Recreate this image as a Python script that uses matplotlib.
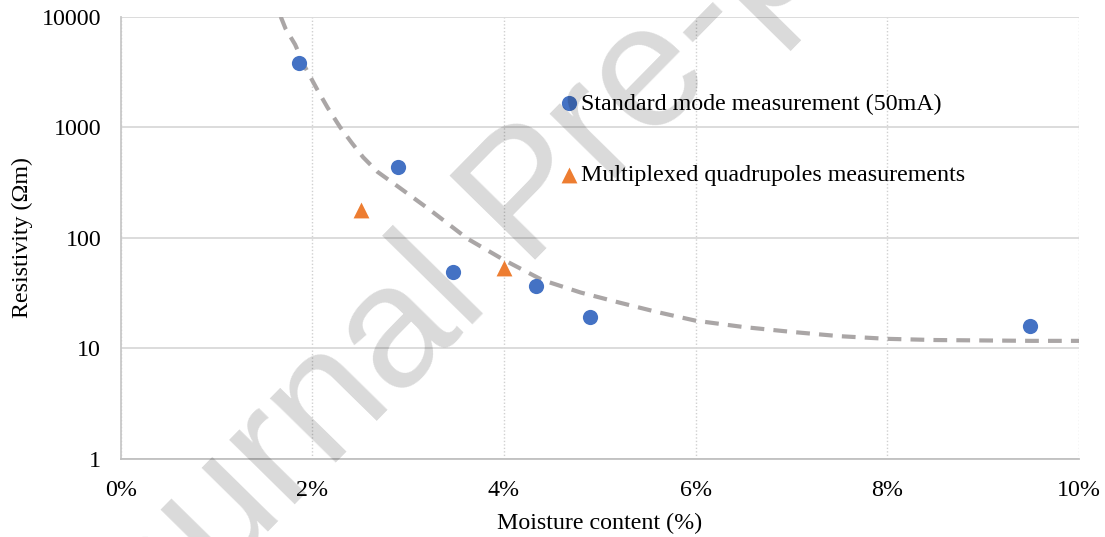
import numpy as np
import matplotlib.pyplot as plt
from matplotlib.ticker import FixedLocator, FuncFormatter, NullLocator

# --- data ---
std_moist = [1.86, 2.89, 3.47, 4.33, 4.90, 9.49]
std_res = [3800, 437, 49, 36.7, 19.2, 15.9]

mux_moist = [2.51, 4.00]
mux_res = [178, 53]

trend_moist = [1.67, 1.72, 1.82, 1.92, 2.05, 2.16, 2.29, 2.41, 2.53, 2.68, 2.90,
               3.23, 3.62, 4.00, 4.40, 4.80, 5.20, 5.60, 6.00, 6.50, 7.00, 7.50,
               8.00, 8.50, 9.00, 9.50, 10.00]
trend_res = [10000, 7800, 5600, 3550, 2200, 1500, 1000, 725, 535, 395, 288,
             178, 98, 63, 41.5, 32, 26, 21.3, 17.8, 15.6, 14.1, 12.9,
             12.2, 11.9, 11.8, 11.7, 11.7]

y_ticks = [1, 10, 100, 1000, 10000]
x_ticks = [0, 2, 4, 6, 8, 10]

FS = 17.3

plt.rcParams['font.family'] = ['Liberation Serif', 'DejaVu Serif']

fig = plt.figure(figsize=(11.05, 5.37), dpi=100)
ax = fig.add_axes([0.1092, 0.1453, 0.8673, 0.8237])

ax.set_yscale('log')
ax.set_xlim(0, 10)
ax.set_ylim(1, 10000)

# grid
ax.yaxis.set_major_locator(FixedLocator(y_ticks))
ax.yaxis.set_minor_locator(NullLocator())
ax.yaxis.set_major_formatter(FuncFormatter(lambda v, p: f"{v:g}"))
ax.xaxis.set_major_locator(FixedLocator(x_ticks))
ax.xaxis.set_major_formatter(FuncFormatter(lambda v, p: f"{v:.0f}%"))
ax.grid(axis='y', color='#d9d9d9', linewidth=1.3, linestyle='-')
ax.grid(axis='x', color='#d0d0d0', linewidth=1.0, linestyle=(0, (1, 1.5)))
ax.set_axisbelow(True)

for side in ['top', 'right']:
    ax.spines[side].set_visible(False)
ax.spines['left'].set_color('#c8c8c8')
ax.spines['bottom'].set_color('#c0c0c0')
ax.spines['left'].set_linewidth(1.3)
ax.spines['bottom'].set_linewidth(1.3)

ax.tick_params(length=0, labelsize=FS, colors='black')
ax.tick_params(axis='y', pad=14)
ax.tick_params(axis='x', pad=15)

# trend line
ax.plot(trend_moist, trend_res, color='#aaa6a6', linewidth=3.0,
        dashes=(3.3, 2.2), zorder=2)

# points
ax.scatter(std_moist, std_res, s=120, color='#4472c4', marker='o',
           zorder=3, label='Standard mode measurement (50mA)', linewidths=0)
ax.scatter(mux_moist, mux_res, s=130, color='#ed7d31', marker='^',
           zorder=3, label='Multiplexed quadrupoles measurements', linewidths=0)

ax.set_xlabel('Moisture content (%)', fontsize=FS, labelpad=9)
ax.set_ylabel('Resistivity (\u03a9m)', fontsize=FS, labelpad=6)

leg = ax.legend(loc='upper left', bbox_to_anchor=(0.460, 0.8275),
                frameon=False, fontsize=FS, handlelength=0.6,
                handletextpad=0.2, labelspacing=2.05, borderpad=0,
                borderaxespad=0)

# watermark
fig.text(0.0805, -0.3296, 'Journal Pre-proof', fontsize=126, color='#000000',
         alpha=0.15, rotation=45.5, rotation_mode='anchor',
         ha='left', va='baseline',
         family=['Liberation Sans', 'DejaVu Sans'], zorder=10)

fig.savefig('out.png', dpi=100)
